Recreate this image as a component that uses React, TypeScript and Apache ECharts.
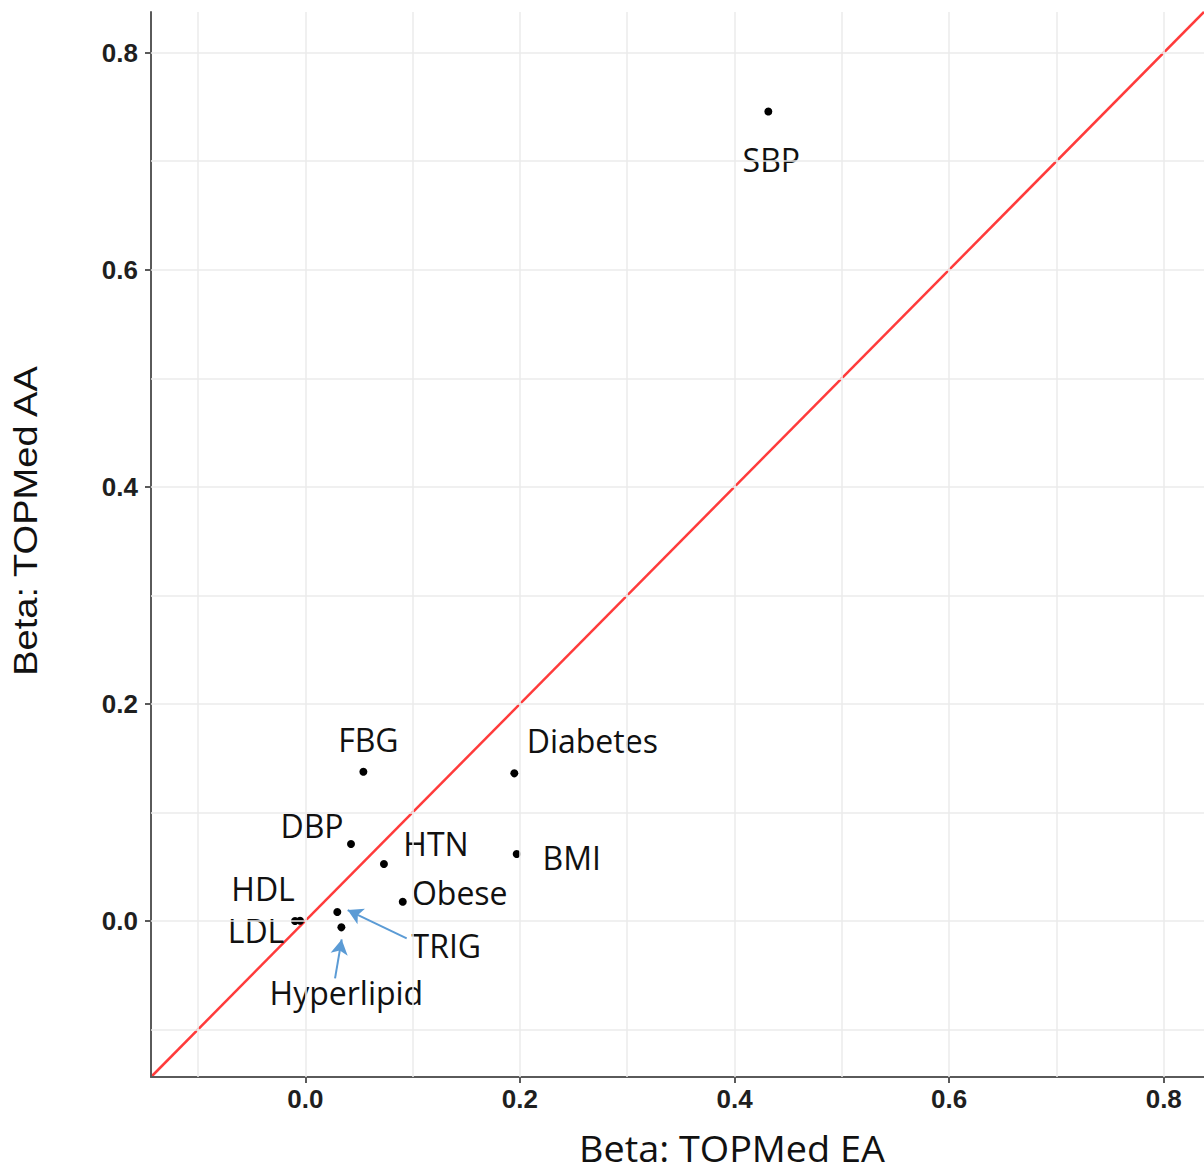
import React, { useEffect, useRef } from "react";
import * as echarts from "echarts";

// Trait effect sizes: European-ancestry beta (x) vs African-ancestry beta (y)
const traits = ["SBP", "FBG", "Diabetes", "DBP", "HTN", "BMI", "Obese", "HDL", "LDL", "TRIG", "Hyperlipid"];
const betaEA = [0.4315, 0.0541, 0.1948, 0.0426, 0.0733, 0.197, 0.0908, -0.0049, -0.0096, 0.0298, 0.0336];
const betaAA = [0.7458, 0.1375, 0.136, 0.0709, 0.0525, 0.0617, 0.0177, 0.0002, 0.0, 0.0082, -0.0059];

// Pixel offsets of each trait's text from its point
const labelOffsets = [
  [3, 48], [5, -32], [78, -33], [-39, -18], [52, -20], [55, 4],
  [57, -9], [-37, -32], [-39, 10], [109, 33], [5, 65],
];

// Callout arrows (data coordinates): [from, to]
const arrowTrig = [[0.0945, -0.016], [0.0395, 0.01]];
const arrowHyperlipid = [[0.0277, -0.0529], [0.0339, -0.017]];

const axisMin = -0.1438;
const axisMax = 0.8375;
const majorTicks = [0, 0.2, 0.4, 0.6, 0.8];
const minorTicks = [-0.1, 0.1, 0.3, 0.5, 0.7];

const ARROW_COLOR = "#5B9BD5";
const TEXT_COLOR = "#111111";

export default function App() {
  const ref = useRef<HTMLDivElement>(null);

  useEffect(() => {
    if (!ref.current) return;
    const chart = echarts.init(ref.current, undefined, { renderer: "svg" });

    const tickLabelStyle = {
      fontFamily: "Liberation Sans",
      fontWeight: "bold" as const,
      fontSize: 26,
      color: "#1f1f1f",
    };

    const axisCommon = {
      type: "value" as const,
      min: axisMin,
      max: axisMax,
      z: 4,
      axisLine: { show: true, onZero: false, lineStyle: { color: "#5a5a5a", width: 2 } },
      axisTick: { show: true, length: 6, customValues: majorTicks, lineStyle: { color: "#5a5a5a", width: 2 } },
      splitLine: { show: false },
      minorSplitLine: { show: false },
    };

    const gridLines = [
      ...majorTicks.map((v) => ({ xAxis: v })),
      ...minorTicks.map((v) => ({ xAxis: v })),
      ...majorTicks.map((v) => ({ yAxis: v })),
      ...minorTicks.map((v) => ({ yAxis: v })),
    ];

    const scatterData = traits.map((name, i) => ({
      name,
      value: [betaEA[i], betaAA[i]],
      label: {
        show: true,
        position: "inside" as const,
        offset: labelOffsets[i],
        formatter: "{b}",
        color: TEXT_COLOR,
        textBorderWidth: 0,
        textBorderColor: "transparent",
      },
    }));

    chart.setOption({
      animation: false,
      backgroundColor: "#ffffff",
      grid: { left: 151, top: 12, right: 0, bottom: 95, containLabel: false },
      xAxis: {
        ...axisCommon,
        axisLabel: {
          ...tickLabelStyle,
          margin: 9,
          customValues: majorTicks,
          formatter: (v: number) => v.toFixed(1),
        },
      },
      yAxis: {
        ...axisCommon,
        axisLabel: {
          ...tickLabelStyle,
          margin: 13,
          customValues: majorTicks,
          formatter: (v: number) => v.toFixed(1),
        },
      },
      graphic: [
        {
          type: "text",
          x: 732,
          y: 1148,
          scaleX: 1.05,
          style: {
            text: "Beta: TOPMed EA",
            fontFamily: "Open Sans",
            fontSize: 36,
            lineHeight: 36,
            fill: TEXT_COLOR,
            align: "center",
            verticalAlign: "middle",
          },
        },
        {
          type: "text",
          x: 25,
          y: 521,
          rotation: Math.PI / 2,
          scaleX: 1.12,
          style: {
            text: "Beta: TOPMed AA",
            fontFamily: "Liberation Sans",
            fontSize: 34,
            lineHeight: 34,
            fill: TEXT_COLOR,
            align: "center",
            verticalAlign: "middle",
          },
        },
      ],
      series: [
        {
          // background grid drawn as mark lines
          type: "line",
          data: [],
          z: 1,
          silent: true,
          markLine: {
            silent: true,
            symbol: "none",
            label: { show: false },
            lineStyle: { color: "#ebebeb", width: 1.5, type: "solid" },
            emphasis: { disabled: true },
            data: gridLines,
          },
        },
        {
          // identity line y = x
          type: "line",
          data: [
            [axisMin, axisMin],
            [axisMax, axisMax],
          ],
          z: 2,
          silent: true,
          showSymbol: false,
          clip: true,
          lineStyle: { color: "#ff3b3b", width: 2.5 },
        },
        {
          type: "scatter",
          data: scatterData,
          z: 3,
          symbolSize: 8,
          itemStyle: { color: "#000000", opacity: 1 },
          label: {
            fontFamily: "Open Sans",
            fontSize: 32,
            lineHeight: 32,
            color: TEXT_COLOR,
          },
          markLine: {
            silent: true,
            symbol: ["none", "arrow"],
            symbolSize: [13, 15],
            label: { show: false },
            lineStyle: { color: ARROW_COLOR, width: 2, type: "solid" },
            emphasis: { disabled: true },
            data: [
              [{ coord: arrowTrig[0] }, { coord: arrowTrig[1] }],
              [{ coord: arrowHyperlipid[0] }, { coord: arrowHyperlipid[1] }],
            ],
          },
        },
      ],
    });

    return () => chart.dispose();
  }, []);

  return (
    <div
      ref={ref}
      style={{ position: "absolute", left: 0, top: 0, width: 1204, height: 1172 }}
    />
  );
}
